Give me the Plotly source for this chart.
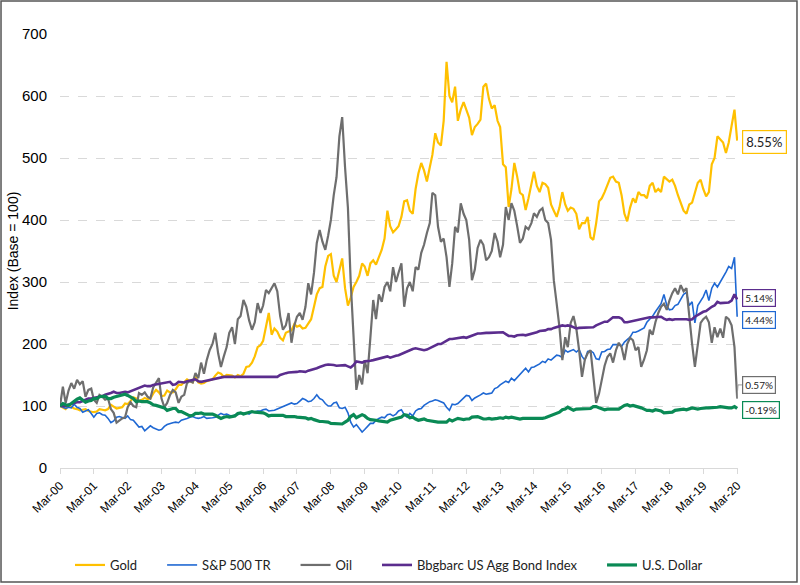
import pandas as pd
import plotly.graph_objects as go

# monthly observations, Mar-2000 .. Mar-2020 (index, base = 100)
dates = pd.date_range("2000-03-01", periods=241, freq="MS")

gold = [
    100, 97, 95, 101, 98, 96, 95, 93, 94, 95,
    92, 91, 90, 91, 95, 94, 93, 95, 102, 99, 96, 97,
    98, 104, 103, 108, 114, 112, 108, 110, 113, 111, 112, 120,
    126, 122, 116, 117, 125, 122, 122, 127, 134, 134, 138, 143,
    140, 138, 147, 138, 136, 137, 140, 142, 143, 149, 154, 152,
    147, 150, 149, 149, 146, 150, 148, 152, 163, 164, 170, 180,
    195, 198, 205, 228, 250, 215, 225, 220, 210, 206, 218, 220,
    222, 232, 228, 230, 225, 226, 232, 240, 260, 280, 290, 292,
    325, 342, 345, 310, 300, 318, 338, 290, 262, 275, 292, 300,
    310, 330, 325, 310, 330, 335, 328, 340, 352, 370, 415, 390,
    380, 385, 390, 405, 430, 432, 415, 410, 450, 475, 492, 480,
    462, 485, 505, 540, 525, 520, 560, 655, 600, 590, 615, 560,
    578, 590, 577, 565, 537, 550, 555, 562, 615, 620, 595, 580,
    585, 560, 550, 490, 485, 421, 450, 492, 470, 444, 440, 416,
    435, 460, 478, 455, 445, 460, 458, 452, 425, 415, 405, 420,
    445, 425, 415, 420, 418, 410, 385, 395, 395, 405, 372, 368,
    395, 430, 435, 445, 455, 468, 470, 462, 460, 440, 410, 398,
    420, 435, 428, 445, 440, 440, 435, 455, 460, 445, 450, 445,
    470, 465, 462, 465, 455, 440, 428, 415, 410, 425, 428, 445,
    460, 465, 450, 438, 445, 490, 500, 535, 530, 525, 508, 525,
    552, 578, 528,
]

sp500 = [
    100, 98, 96, 98, 97, 103, 98, 96, 90, 92,
    94, 88, 82, 88, 89, 86, 85, 80, 73, 76, 82, 83,
    82, 80, 84, 78, 77, 72, 66, 67, 60, 64, 68, 65,
    63, 61, 62, 67, 70, 72, 73, 74, 73, 77, 78, 80,
    82, 83, 81, 80, 81, 83, 80, 80, 81, 82, 85, 88,
    86, 87, 85, 83, 86, 86, 89, 88, 89, 87, 90, 90,
    92, 92, 94, 95, 92, 92, 93, 95, 97, 100, 102, 104,
    105, 103, 104, 108, 112, 110, 107, 108, 112, 118, 112, 110,
    104, 100, 100, 105, 106, 97, 96, 98, 89, 74, 66, 70,
    64, 58, 62, 68, 72, 72, 77, 80, 82, 81, 86, 87,
    84, 87, 92, 94, 86, 82, 88, 84, 92, 95, 96, 101,
    104, 107, 108, 110, 109, 107, 105, 98, 93, 103, 102, 104,
    108, 113, 117, 116, 109, 113, 115, 118, 121, 119, 120, 121,
    128, 130, 134, 137, 140, 138, 145, 141, 146, 152, 157, 161,
    155, 162, 163, 165, 168, 172, 170, 176, 174, 178, 182, 181,
    178, 190, 187, 189, 191, 187, 191, 180, 174, 188, 189, 186,
    176, 175, 187, 188, 191, 192, 199, 199, 199, 196, 203, 207,
    211, 219, 219, 221, 224, 226, 235, 240, 245, 252, 258, 265,
    280, 262, 255, 256, 262, 264, 272, 280, 283, 262, 268, 234,
    262, 270, 276, 287, 270, 290, 298, 292, 300, 306, 316, 325,
    322, 340, 244,
]

oil = [
    100, 131, 105, 125, 137, 128, 142, 135, 140, 115,
    126, 128, 110, 105, 118, 115, 110, 112, 95, 89, 73, 77,
    80, 82, 98, 106, 100, 98, 121, 118, 122, 115, 112, 130,
    138, 145, 112, 98, 105, 118, 126, 122, 105, 115, 118, 137,
    140, 138, 153, 145, 170, 152, 174, 190, 200, 218, 185, 163,
    180, 195, 218, 227, 200, 240, 245, 271, 260, 238, 223, 235,
    266, 250, 262, 287, 282, 290, 298, 285, 245, 223, 230, 250,
    202, 230, 244, 250, 239, 260, 298, 280, 315, 363, 384, 365,
    352, 375, 400, 440, 469, 535, 566, 485, 420, 300, 200, 126,
    150, 135, 174, 153, 210, 271, 240, 280, 268, 292, 300, 285,
    324, 300, 315, 330, 260, 290, 300, 285, 324, 320, 347, 360,
    379, 395, 444, 440, 389, 365, 370, 340, 292, 330, 389, 380,
    427, 410, 400, 368, 303, 320, 355, 368, 360, 335, 340, 350,
    379, 365, 340, 360, 421, 400, 427, 415, 390, 363, 370, 389,
    385, 395, 411, 405, 415, 419, 400, 395, 368, 303, 265, 227,
    174, 211, 195, 234, 245, 225, 190, 147, 175, 185, 190, 150,
    105, 120, 142, 165, 179, 185, 170, 190, 202, 195, 174, 200,
    210, 206, 190, 195, 163, 175, 190, 223, 215, 235, 250, 260,
    265, 255, 270, 282, 290, 280, 295, 285, 290, 239, 200, 163,
    195, 234, 240, 244, 235, 202, 227, 211, 225, 210, 244, 240,
    230, 195, 112,
]

bond = [
    100, 100, 100, 102, 104, 105, 106, 106, 108, 110,
    112, 112, 113, 113, 114, 116, 118, 119, 121, 123, 121, 121,
    122, 123, 122, 124, 125, 127, 129, 131, 133, 132, 132, 134,
    135, 135, 136, 137, 139, 139, 134, 135, 139, 138, 138, 140,
    141, 142, 143, 140, 139, 140, 141, 143, 144, 145, 146, 146,
    147, 147, 147, 147, 147, 147, 147, 147, 147, 147, 147, 147,
    147, 147, 147, 147, 147, 147, 147, 147, 150, 152, 153, 154,
    154, 155, 155, 156, 155, 155, 157, 158, 159, 161, 163, 165,
    166, 167, 167, 166, 165, 165, 165, 166, 164, 162, 166, 172,
    171, 170, 172, 172, 173, 174, 175, 176, 178, 178, 180, 178,
    180, 181, 182, 184, 186, 189, 191, 192, 193, 192, 191, 190,
    191, 193, 195, 197, 200, 200, 203, 206, 208, 208, 209, 210,
    211, 211, 210, 212, 214, 215, 217, 217, 218, 218, 218, 218,
    218, 218, 219, 219, 216, 213, 213, 212, 214, 215, 215, 214,
    215, 216, 217, 219, 221, 221, 222, 224, 224, 226, 227, 228,
    230, 229, 230, 229, 227, 225, 226, 226, 227, 227, 227, 227,
    230, 232, 234, 236, 236, 240, 243, 243, 243, 241, 235, 235,
    236, 237, 238, 239, 241, 241, 242, 243, 243, 243, 243, 244,
    241, 239, 240, 239, 240, 240, 241, 241, 240, 239, 240, 244,
    247, 249, 252, 253, 257, 260, 262, 268, 266, 266, 266, 267,
    270, 280, 272,
]

dollar = [
    100, 104, 102, 101, 104, 108, 111, 113, 110, 106,
    108, 109, 112, 112, 115, 116, 116, 112, 112, 114, 115, 116,
    118, 119, 117, 115, 112, 107, 108, 107, 107, 107, 105, 102,
    101, 100, 98, 97, 93, 95, 96, 96, 91, 91, 89, 86,
    84, 85, 88, 88, 89, 87, 87, 88, 87, 85, 82, 80,
    82, 83, 82, 83, 84, 88, 89, 87, 88, 90, 91, 90,
    90, 90, 89, 87, 84, 85, 85, 84, 85, 85, 83, 83,
    84, 83, 82, 82, 81, 81, 79, 80, 78, 76, 75, 75,
    75, 74, 72, 72, 72, 72, 71, 74, 77, 83, 86, 81,
    84, 86, 84, 80, 78, 78, 77, 76, 75, 74, 74, 77,
    78, 80, 80, 82, 86, 85, 81, 82, 79, 77, 78, 79,
    77, 76, 75, 74, 74, 74, 74, 74, 78, 76, 78, 80,
    79, 78, 79, 79, 82, 82, 83, 81, 79, 79, 80, 79,
    79, 80, 81, 80, 82, 81, 82, 81, 80, 79, 80, 80,
    80, 80, 79, 79, 80, 80, 81, 83, 85, 86, 88, 90,
    94, 95, 98, 96, 93, 95, 95, 95, 96, 96, 96, 99,
    99, 97, 95, 94, 95, 95, 96, 96, 95, 98, 101, 102,
    100, 101, 100, 99, 97, 95, 93, 93, 92, 94, 93, 92,
    89, 89, 90, 90, 93, 94, 95, 95, 94, 96, 97, 96,
    95, 96, 97, 97, 97, 97, 97, 98, 99, 98, 98, 97,
    97, 99, 96,
]

names = ["Gold", "S&P 500 TR", "Oil", "Bbgbarc US Agg Bond Index", "U.S. Dollar"]
colors = ["#FFC000", "#1F68D3", "#6E6E6E", "#5B2D8E", "#0A8A55"]
widths = [2.2, 1.6, 2.2, 2.6, 3.2]
returns = ["8.55%", "4.44%", "0.57%", "5.14%", "-0.19%"]
label_y = [526, 239, 134, 274, 94]

fig = go.Figure()
for name, vals, c, w in zip(names, [gold, sp500, oil, bond, dollar], colors, widths):
    # trailing no-break spaces widen the gaps between legend entries
    fig.add_trace(go.Scatter(x=dates, y=vals, mode="lines", name=name + "\u00a0" * 6,
                             line=dict(color=c, width=w)))

# annualised return boxes on the right
for txt, yv, c in zip(returns, label_y, colors):
    big = txt == "8.55%"
    fig.add_annotation(x=1.006, xref="paper", y=yv, yref="y", xanchor="left",
                       text=txt, showarrow=False, bgcolor="white",
                       bordercolor=c, borderwidth=1.2, borderpad=3 if big else 2,
                       font=dict(family="Lato", size=13 if big else 10, color="#222"))

# small leader line for the oil label
fig.add_shape(type="path", xref="paper", yref="y",
              path="M 0.9985,112 L 1.0,134 L 1.006,134",
              line=dict(color="#9a9a9a", width=1))

# outer frame
fig.add_shape(type="rect", xref="paper", yref="paper",
              x0=-0.087, x1=1.087, y0=-0.2627, y1=1.076,
              line=dict(color="#555555", width=1.5))

fig.update_layout(
    width=800, height=585,
    margin=dict(l=60, r=62, t=34, b=117, autoexpand=False),
    paper_bgcolor="white", plot_bgcolor="white",
    font=dict(family="Liberation Sans", color="#000"),
    showlegend=True,
    legend=dict(orientation="h", x=0.5, xanchor="center", y=-0.2235, yanchor="middle",
                font=dict(family="Lato", size=13, color="#222"),
                itemwidth=30, traceorder="normal"),
)
fig.update_xaxes(type="date", range=["2000-03-01", "2020-03-10"], automargin=False,
                 tick0="2000-03-01", dtick="M12", tickformat="%b-%y", tickangle=-45,
                 tickfont=dict(size=12), showgrid=False,
                 showline=True, linecolor="#D9D9D9", linewidth=1,
                 ticks="outside", ticklen=5, tickcolor="#D9D9D9")
fig.update_yaxes(range=[0, 700], dtick=100, tickfont=dict(size=15), automargin=False,
                 ticklabelstandoff=12,
                 showgrid=True, gridcolor="#D9D9D9", griddash="dash", gridwidth=1,
                 zeroline=False, showline=False, ticks="",
                 title=dict(text="Index (Base = 100)", font=dict(size=14), standoff=0))

fig.write_html("out.html", config={"displayModeBar": False},
               post_script="document.body.style.margin = '0';")
